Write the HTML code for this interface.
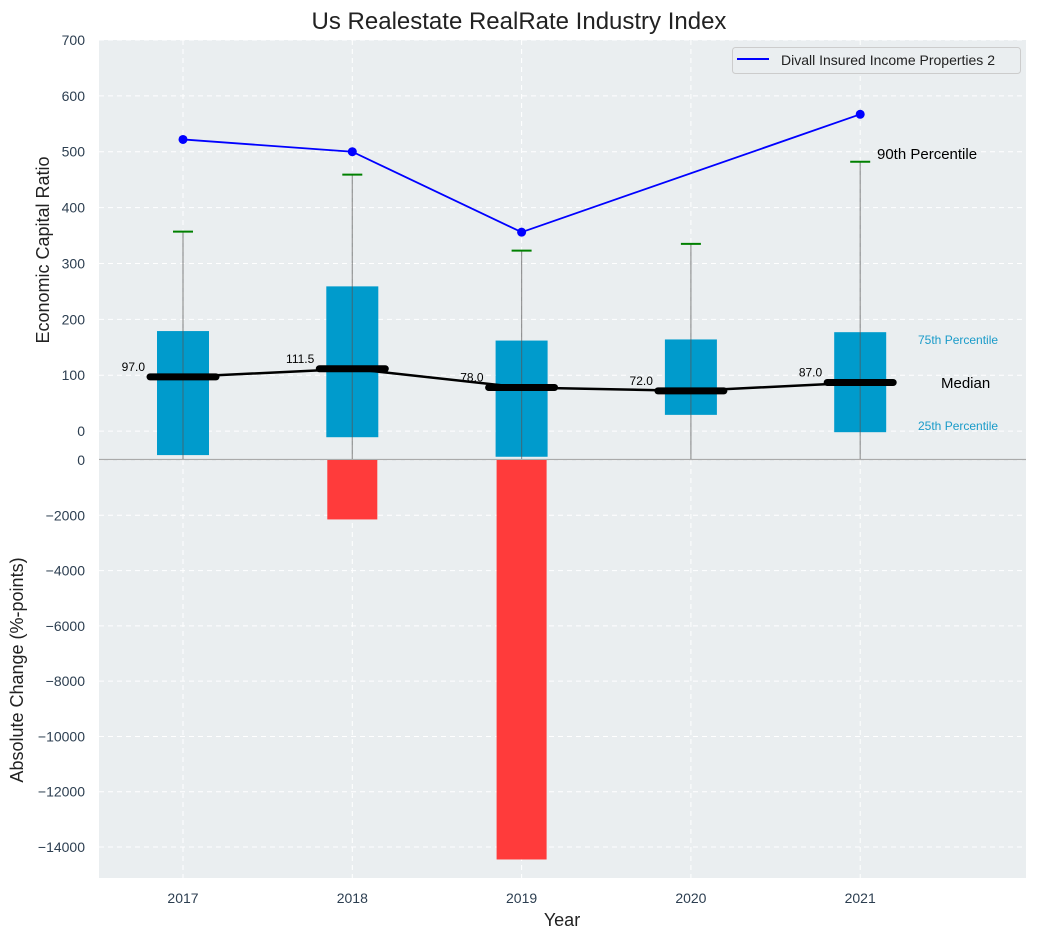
<!DOCTYPE html>
<html><head><meta charset="utf-8"><style>
body{margin:0;background:#fff;font-family:"Liberation Sans","DejaVu Sans",sans-serif}
</style></head><body>
<svg id="c" width="1038" height="940" xmlns="http://www.w3.org/2000/svg" font-family="Liberation Sans, DejaVu Sans, sans-serif"></svg>
<script>
const years=["2017","2018","2019","2020","2021"];
const q1=[-43,-11,-46,29,-2];
const q3=[179,259,162,164,177];
const p90=[357,459,323,335,482];
const medians=[97.0,111.5,78.0,72.0,87.0];
const lineVals=[522,500,356,null,567];
const changes=[0,-2150,-14450,0,0];
const topTicks=[0,100,200,300,400,500,600,700];
const botTicks=[0,-2000,-4000,-6000,-8000,-10000,-12000,-14000];

const svg=document.getElementById('c');const NS='http://www.w3.org/2000/svg';
function el(t,a,p){const e=document.createElementNS(NS,t);for(const k in a)e.setAttribute(k,a[k]);(p||svg).appendChild(e);return e;}
const L=99,R=1026,T1=40,B1=459,T2=460,B2=878;
const x=i=>183+i*169.3;
const y1=v=>T1+(700-v)*(B1-T1)/750;
const y2=v=>T2+(0-v)*(B2-T2)/15120;
let r;
r=el('rect',{x:L,y:T1,width:R-L,height:B1-T1,fill:'#eaeef0'});
r=el('rect',{x:L,y:T2,width:R-L,height:B2-T2,fill:'#eaeef0'});
// grids
topTicks.forEach(v=>{el('line',{x1:L,x2:R,y1:y1(v),y2:y1(v),stroke:'#fff','stroke-dasharray':'5,4','stroke-width':1});
 const t=el('text',{x:85,y:y1(v)+5,'text-anchor':'end','font-size':14,fill:'#2c3e50'});t.textContent=v;});
botTicks.forEach(v=>{el('line',{x1:L,x2:R,y1:y2(v),y2:y2(v),stroke:'#fff','stroke-dasharray':'5,4','stroke-width':1});
 const t=el('text',{x:85,y:y2(v)+5,'text-anchor':'end','font-size':14,fill:'#2c3e50'});t.textContent=v===0?'0':'\u2212'+Math.abs(v);});
years.forEach((yr,i)=>{el('line',{x1:x(i),x2:x(i),y1:T1,y2:B1,stroke:'#fff','stroke-dasharray':'5,4'});el('line',{x1:x(i),x2:x(i),y1:T2,y2:B2,stroke:'#fff','stroke-dasharray':'5,4'});
 const t=el('text',{x:x(i),y:903,'text-anchor':'middle','font-size':14,fill:'#2c3e50'});t.textContent=yr;});
el('line',{x1:L,x2:R,y1:459.5,y2:459.5,stroke:'#aaa','stroke-width':1.2});
// bottom bars
changes.forEach((v,i)=>{if(v===0)return;const b=el('rect',{x:x(i)-25,y:y2(0),width:50,height:y2(v)-y2(0),fill:'#ff3b3b'});});
// boxes
years.forEach((yr,i)=>{
 const b=el('rect',{x:x(i)-26,y:y1(q3[i]),width:52,height:y1(q1[i])-y1(q3[i]),fill:'#009bcc'});
 const w=el('line',{x1:x(i),x2:x(i),y1:y1(p90[i]),y2:y1(-50),stroke:'#555','stroke-opacity':0.6,'stroke-width':1.2});
 const c=el('line',{x1:x(i)-10,x2:x(i)+10,y1:y1(p90[i]),y2:y1(p90[i]),stroke:'#008000','stroke-width':2});
});
// median line
let d='';medians.forEach((v,i)=>{d+=(i?'L':'M')+x(i)+','+y1(v);});
r=el('path',{d:d,fill:'none',stroke:'#000','stroke-width':2.5});
medians.forEach((v,i)=>{const m=el('line',{x1:x(i)-33,x2:x(i)+33,y1:y1(v),y2:y1(v),stroke:'#000','stroke-width':7,'stroke-linecap':'round'});
 const t=el('text',{x:x(i)-38,y:y1(v)-6,'text-anchor':'end','font-size':12,fill:'#000'});t.textContent=v.toFixed(1);});
// blue line
let pts=[];lineVals.forEach((v,i)=>{if(v!==null)pts.push([x(i),y1(v)]);});
r=el('path',{d:pts.map((p,k)=>(k?'L':'M')+p[0]+','+p[1]).join(''),fill:'none',stroke:'#0000ff','stroke-width':1.8});
pts.forEach(p=>{const c=el('circle',{cx:p[0],cy:p[1],r:4.5,fill:'#0000ff'});});
// annotations
function txt(s,a,name){const t=el('text',a);t.textContent=s;return t;}
txt('90th Percentile',{x:877,y:159,'font-size':15,fill:'#000'},'p90-annotation');
txt('75th Percentile',{x:918,y:344,'font-size':12,fill:'#1a9bc9'},'p75-annotation');
txt('Median',{x:941,y:388,'font-size':15,fill:'#000'},'median-annotation');
txt('25th Percentile',{x:918,y:430,'font-size':12,fill:'#1a9bc9'},'p25-annotation');
// legend
const g=el('g',{});
el('rect',{x:732.5,y:47.5,width:288,height:26,rx:3,fill:'#eaeef0',stroke:'#ccc'},g);
el('line',{x1:737,x2:769,y1:59,y2:59,stroke:'#0000ff','stroke-width':2},g);
const lt=el('text',{x:781,y:65,'font-size':14,fill:'#222'},g);lt.textContent='Divall Insured Income Properties 2';
// titles
txt('Us Realestate RealRate Industry Index',{x:519,y:29,'text-anchor':'middle','font-size':24,fill:'#222'},'chart-title');
txt('Year',{x:562,y:926,'text-anchor':'middle','font-size':18,fill:'#222'},'x-axis-title');
txt('Economic Capital Ratio',{x:0,y:0,transform:'translate(49,250) rotate(-90)','text-anchor':'middle','font-size':18,fill:'#222'},'top-y-axis-title');
txt('Absolute Change (%-points)',{x:0,y:0,transform:'translate(23,670) rotate(-90)','text-anchor':'middle','font-size':18,fill:'#222'},'bottom-y-axis-title');
</script>
</body></html>
